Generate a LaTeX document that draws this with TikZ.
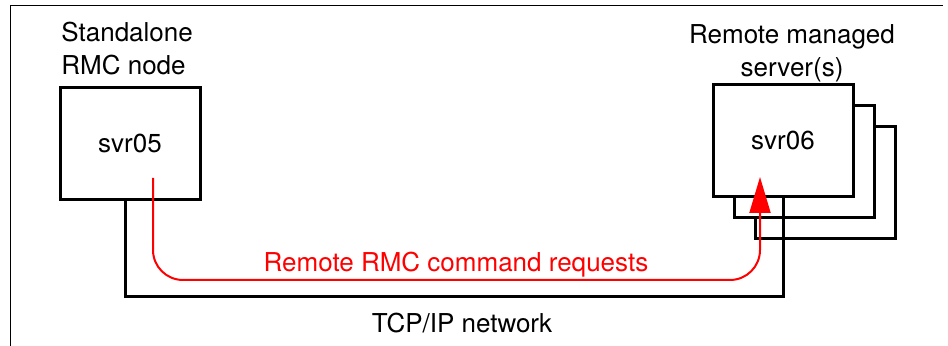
\documentclass[tikz,border=0pt]{standalone}
\usepackage{fontspec}
\setmainfont{TeX Gyre Heros}
\usetikzlibrary{arrows.meta}
\definecolor{ink}{HTML}{000000}
\definecolor{request}{HTML}{FF0000}

\begin{document}
\begin{tikzpicture}[
  x=0.5pt,
  y=-0.5pt,
  font=\fontsize{13}{16.5}\selectfont,
  server/.style={draw=ink,fill=white,line width=1.5pt,minimum width=70pt,minimum height=56pt,inner sep=0pt},
  line join=miter
]
  \useasboundingbox (0,0) rectangle (948,346);
  \draw[ink,line width=0.6pt] (10.5,346) |- (943,5.5);

  \coordinate (local) at (130,143.5);
  \coordinate (remote) at (783,140.5);
  \coordinate (lan) at (454,297);
  \coordinate (reqmid) at (456,280);

  \node[server] (svr06c) at ([shift={(42,42)}]remote) {};
  \node[server] (svr06b) at ([shift={(21,21)}]remote) {};
  \node[server] (svr06) at (remote) {svr06};
  \node[server] (svr05) at (local) {svr05};

  \node[anchor=north west,align=left,inner sep=0pt] (localtitle) at (61,21.5) {Standalone\\RMC node};
  \node[anchor=north,align=center,inner sep=0pt] (remotetitle) at (792,24) {Remote managed\\server(s)};

  \draw[ink,line width=1.5pt] ([xshift=-2.5pt]svr05.south) |- (lan)
    node[below=4pt,xshift=4pt] (netlabel) {TCP/IP network} -| (svr06.south);

  \draw[request,line width=1pt,rounded corners=15pt,-{Triangle[length=18pt,width=10.5pt]}]
    ([shift={(23,34.5)}]svr05.center) |- (reqmid)
    node[above,inner sep=1pt,text=request] (reqlabel) {Remote RMC command requests}
    -| ([shift={(-23,36.5)}]svr06.center);
\end{tikzpicture}
\end{document}
